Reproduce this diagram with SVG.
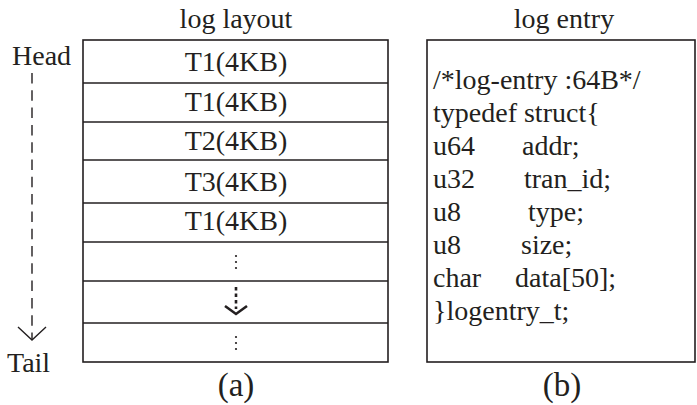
<svg xmlns="http://www.w3.org/2000/svg" width="697" height="405" viewBox="0 0 697 405">
<style>
text{font-family:"Liberation Serif","Times New Roman",serif;fill:#231f20}
.t{font-size:28px}
.c{text-anchor:middle}
.box{fill:#fff;stroke:#231f20;stroke-width:1.6}
.ln{stroke:#231f20;stroke-width:1.6}
.dot{fill:#231f20}
</style>
<rect width="697" height="405" fill="#fff"/>
<text class="t c" x="236" y="28">log layout</text>
<text class="t c" x="564" y="28">log entry</text>
<text class="t" x="12" y="65">Head</text>
<text class="t" x="7" y="372">Tail</text>
<text class="c" x="236" y="396" style="font-size:33px">(a)</text>
<text class="c" x="562" y="396" style="font-size:33px">(b)</text>
<g id="log-layout">
<rect class="box" x="83" y="40" width="305" height="322"/>
<line class="ln" x1="83" y1="83" x2="388" y2="83"/>
<line class="ln" x1="83" y1="122" x2="388" y2="122"/>
<line class="ln" x1="83" y1="160" x2="388" y2="160"/>
<line class="ln" x1="83" y1="203" x2="388" y2="203"/>
<line class="ln" x1="83" y1="242" x2="388" y2="242"/>
<line class="ln" x1="83" y1="281" x2="388" y2="281"/>
<line class="ln" x1="83" y1="323" x2="388" y2="323"/>
</g>
<g id="row1"><text class="t c" x="236" y="71">T1(4KB)</text></g>
<g id="row2"><text class="t c" x="236" y="111">T1(4KB)</text></g>
<g id="row3"><text class="t c" x="236" y="150">T2(4KB)</text></g>
<g id="row4"><text class="t c" x="236" y="191">T3(4KB)</text></g>
<g id="row5"><text class="t c" x="236" y="230">T1(4KB)</text></g>
<g id="row6"><circle class="dot" cx="236" cy="256" r="1.1"/><circle class="dot" cx="236" cy="262" r="1.1"/><circle class="dot" cx="236" cy="268" r="1.1"/></g>
<g id="row7">
<line x1="236" y1="287" x2="236" y2="309" stroke="#231f20" stroke-width="2.6" stroke-dasharray="3.5 3"/>
<polyline points="225,306 236,314 247,306" fill="none" stroke="#231f20" stroke-width="2.6"/>
</g>
<g id="row8"><circle class="dot" cx="236" cy="337" r="1.1"/><circle class="dot" cx="236" cy="343" r="1.1"/><circle class="dot" cx="236" cy="349" r="1.1"/></g>
<g id="log-entry">
<rect class="box" x="427" y="40" width="268" height="322"/>
<text class="t" x="433" y="89">/*log-entry :64B*/</text>
<text class="t" x="433" y="122">typedef struct{</text>
<text class="t" x="433" y="155">u64</text><text class="t" x="522" y="155">addr;</text>
<text class="t" x="433" y="188">u32</text><text class="t" x="524" y="188">tran_id;</text>
<text class="t" x="433" y="221">u8</text><text class="t" x="528" y="221">type;</text>
<text class="t" x="433" y="254">u8</text><text class="t" x="521" y="254">size;</text>
<text class="t" x="433" y="287">char</text><text class="t" x="515" y="287">data[50];</text>
<text class="t" x="433" y="320">}logentry_t;</text>
</g>
<g id="connectors">
<line x1="32" y1="73" x2="32" y2="339" stroke="#231f20" stroke-width="1.4" stroke-dasharray="10.5 6.8"/>
<polyline points="18,327 32,340 46,327" fill="none" stroke="#231f20" stroke-width="1.4"/>
</g>
</svg>
